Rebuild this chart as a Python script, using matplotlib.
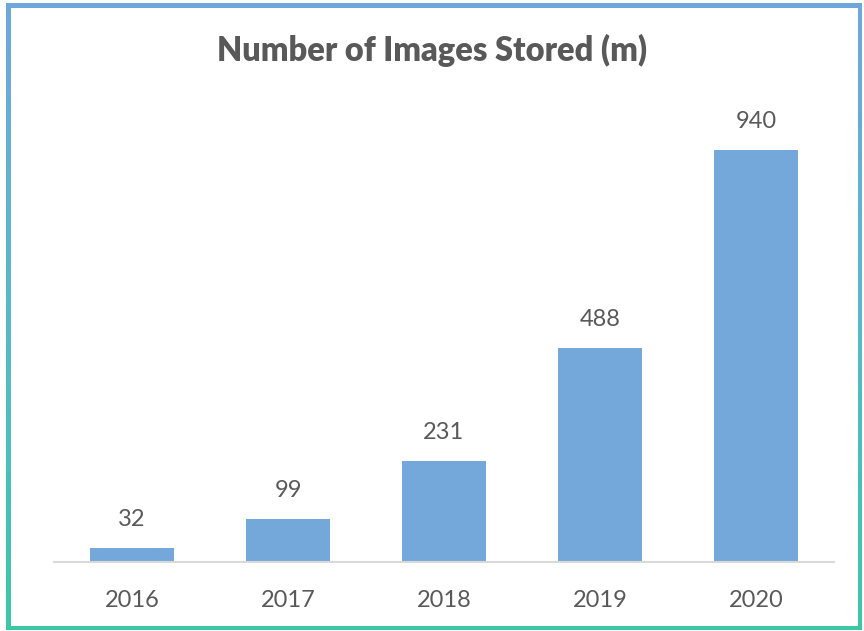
import numpy as np
import matplotlib.pyplot as plt
from matplotlib.colors import LinearSegmentedColormap
from matplotlib.patches import Rectangle

years = ['2016', '2017', '2018', '2019', '2020']
images_m = [32, 99, 231, 488, 940]

BAR_COLOR = '#75a8da'
TEXT_COLOR = '#595959'

plt.rcParams['font.family'] = ['Lato', 'DejaVu Sans']

W, H = 864, 631
fig = plt.figure(figsize=(W / 100, H / 100), dpi=100)

# Gradient frame (blue at top fading to teal at bottom)
bg = fig.add_axes([0, 0, 1, 1])
bg.set_xlim(0, W)
bg.set_ylim(H, 0)
bg.axis('off')
cmap = LinearSegmentedColormap.from_list('frame', ['#6fa7dd', '#58b9c9', '#3cc8a6'])
grad = np.linspace(0, 1, 256).reshape(-1, 1)
bg.imshow(grad, cmap=cmap, aspect='auto', extent=(6, 862, 630, 3))
bg.add_patch(Rectangle((11, 8), 847, 618, facecolor='white', edgecolor='none'))

# Bar chart
ax = fig.add_axes([54 / W, (H - 562) / H, 780 / W, (562 - 123.7) / H])
x = np.arange(len(years))
bars = ax.bar(x, images_m, width=0.54, color=BAR_COLOR, zorder=2)
ax.set_xlim(-0.5, len(years) - 0.5)
ax.set_ylim(0, 1000)
ax.set_facecolor('none')

for rect, v in zip(bars, images_m):
    ax.annotate(f'{v}', (rect.get_x() + rect.get_width() / 2, rect.get_height()),
                xytext=(0, 13), textcoords='offset points',
                ha='center', va='bottom', fontsize=17, color=TEXT_COLOR)

ax.set_xticks(x)
ax.set_xticklabels(years, fontsize=17, color=TEXT_COLOR)
ax.tick_params(axis='x', length=0, pad=20)
ax.set_yticks([])
for side in ['top', 'right', 'left']:
    ax.spines[side].set_visible(False)
ax.spines['bottom'].set_color('#d9d9d9')
ax.spines['bottom'].set_linewidth(1.5)

fig.text(432 / W, (H - 50) / H, 'Number of Images Stored (m)',
         ha='center', va='center', fontsize=23.5, fontweight='heavy', color=TEXT_COLOR)

fig.savefig('out.png', dpi=100)
